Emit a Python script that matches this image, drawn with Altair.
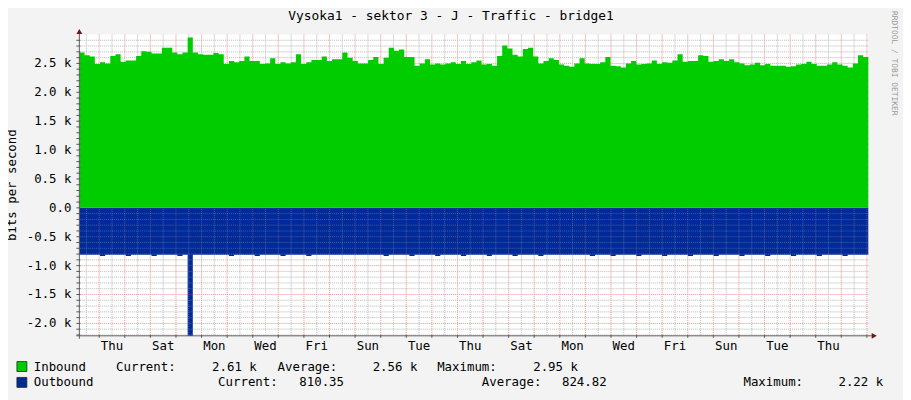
import altair as alt
import pandas as pd
import numpy as np

# ---------------- texts ----------------
TITLE = "Vysoka1 - sektor 3 - J - Traffic - bridge1"
Y_TITLE = "bits per second"
WATERMARK = "RRDTOOL / TOBI OETIKER"
DAY_LABELS = ["Thu", "Sat", "Mon", "Wed", "Fri", "Sun", "Tue", "Thu",
              "Sat", "Mon", "Wed", "Fri", "Sun", "Tue", "Thu"]
DAY_LABEL_POS = [0.5, 2.5, 4.5, 6.5, 8.5, 10.5, 12.5, 14.5,
                 16.5, 18.5, 20.5, 22.5, 24.5, 26.5, 28.5]   # noon of the labelled day
Y_TICK_VALUES = [-2000, -1500, -1000, -500, 0, 500, 1000, 1500, 2000, 2500]
Y_TICK_LABELS = ["-2.0 k", "-1.5 k", "-1.0 k", "-0.5 k", "0.0",
                 "0.5 k", "1.0 k", "1.5 k", "2.0 k", "2.5 k"]

# ---------------- axis ranges (days relative to first Thursday 00:00, bits/s) ----------------
X_START = -0.775
X_END = 30.055
Y_MIN = -2215
Y_MAX = 3000

# ---------------- series (k bits per second, 4.8h samples) ----------------
INBOUND_K = [
    2.69, 2.64, 2.62, 2.49, 2.52, 2.50, 2.63, 2.66, 2.53, 2.55,
    2.55, 2.63, 2.71, 2.70, 2.67, 2.67, 2.77, 2.77, 2.69, 2.66,
    2.69, 2.95, 2.69, 2.66, 2.65, 2.65, 2.68, 2.66, 2.49, 2.54,
    2.52, 2.54, 2.62, 2.54, 2.54, 2.49, 2.50, 2.59, 2.49, 2.52,
    2.50, 2.52, 2.66, 2.49, 2.52, 2.56, 2.56, 2.62, 2.54, 2.57,
    2.57, 2.69, 2.60, 2.54, 2.50, 2.50, 2.56, 2.61, 2.49, 2.60,
    2.77, 2.72, 2.74, 2.61, 2.61, 2.46, 2.50, 2.57, 2.48, 2.50,
    2.48, 2.50, 2.52, 2.49, 2.54, 2.49, 2.52, 2.55, 2.48, 2.49,
    2.46, 2.63, 2.81, 2.76, 2.65, 2.62, 2.75, 2.77, 2.62, 2.50,
    2.54, 2.59, 2.56, 2.48, 2.46, 2.44, 2.50, 2.59, 2.50, 2.49,
    2.49, 2.52, 2.61, 2.46, 2.45, 2.43, 2.50, 2.54, 2.48, 2.49,
    2.50, 2.55, 2.49, 2.52, 2.51, 2.55, 2.66, 2.53, 2.54, 2.54,
    2.64, 2.63, 2.53, 2.54, 2.57, 2.54, 2.57, 2.52, 2.50, 2.47,
    2.48, 2.51, 2.47, 2.49, 2.46, 2.46, 2.46, 2.44, 2.45, 2.48,
    2.49, 2.53, 2.49, 2.46, 2.46, 2.48, 2.52, 2.48, 2.46, 2.43,
    2.50, 2.64, 2.61,
]
OUTBOUND_K = [
    0.81, 0.81, 0.81, 0.81, 0.835, 0.81, 0.81, 0.81, 0.81, 0.835,
    0.81, 0.81, 0.81, 0.81, 0.835, 0.81, 0.81, 0.81, 0.81, 0.835,
    0.81, 2.22, 0.81, 0.81, 0.81, 0.81, 0.81, 0.81, 0.81, 0.835,
    0.81, 0.81, 0.81, 0.81, 0.835, 0.81, 0.81, 0.81, 0.81, 0.835,
    0.81, 0.81, 0.81, 0.81, 0.835, 0.81, 0.81, 0.81, 0.81, 0.81,
    0.81, 0.81, 0.81, 0.81, 0.81, 0.81, 0.81, 0.81, 0.81, 0.835,
    0.81, 0.81, 0.81, 0.81, 0.835, 0.81, 0.81, 0.81, 0.81, 0.835,
    0.81, 0.81, 0.81, 0.81, 0.835, 0.81, 0.81, 0.81, 0.81, 0.835,
    0.81, 0.81, 0.81, 0.81, 0.835, 0.81, 0.81, 0.81, 0.81, 0.835,
    0.81, 0.81, 0.81, 0.81, 0.81, 0.81, 0.81, 0.81, 0.81, 0.835,
    0.81, 0.81, 0.81, 0.835, 0.81, 0.81, 0.81, 0.81, 0.835, 0.81,
    0.81, 0.81, 0.81, 0.835, 0.81, 0.81, 0.81, 0.81, 0.835, 0.81,
    0.81, 0.81, 0.81, 0.835, 0.81, 0.81, 0.81, 0.81, 0.835, 0.81,
    0.81, 0.81, 0.81, 0.835, 0.81, 0.81, 0.81, 0.81, 0.835, 0.81,
    0.81, 0.81, 0.81, 0.835, 0.81, 0.81, 0.81, 0.81, 0.835, 0.81,
    0.81, 0.81, 0.81,
]

# legend pieces: text, x, y (pixels relative to plot origin), align
LEGEND_TEXTS = [
    ("Inbound", -46, 335, "left"), ("Current:", 37, 335, "left"), ("2.61 k", 179, 335, "right"),
    ("Average:", 200, 335, "left"), ("2.56 k", 341, 335, "right"),
    ("Maximum:", 361, 335, "left"), ("2.95 k", 503, 335, "right"),
    ("Outbound", -46, 351, "left"), ("Current:", 140, 351, "left"), ("810.35", 267, 351, "right"),
    ("Average:", 406, 351, "left"), ("824.82", 532, 351, "right"),
    ("Maximum:", 670, 351, "left"), ("2.22 k", 811, 351, "right"),
]

GREEN = "#00CC00"
BLUE = "#002A97"
SWATCHES = [(GREEN, -58, 335), (BLUE, -58, 351)]
FONT = "DejaVu Sans Mono"
W, H = 796, 304

# ---------------- data frames ----------------
n = len(INBOUND_K)
span = X_END - X_START
t = [X_START + i * span / n for i in range(n)] + [X_END]
df = pd.DataFrame({
    "t": t,
    "inb": [v * 1000 for v in INBOUND_K] + [INBOUND_K[-1] * 1000],
    "outb": [-v * 1000 for v in OUTBOUND_K] + [-OUTBOUND_K[-1] * 1000],
    "zero": 0,
})

vmajor = pd.DataFrame({"t": np.arange(0, 31, 1.0)})
vminor = pd.DataFrame({"t": np.arange(-0.5, 30.0, 1.0)})
hvals = list(range(-2200, 3000, 100))
hmajor = pd.DataFrame({"v": [v for v in hvals if v % 500 == 0]})
hminor = pd.DataFrame({"v": [v for v in hvals if v % 500 != 0]})
htick = pd.DataFrame({"v": hvals})
ylab = pd.DataFrame({"v": Y_TICK_VALUES, "s": Y_TICK_LABELS})
xlab = pd.DataFrame({"t": DAY_LABEL_POS, "s": DAY_LABELS})

xscale = alt.Scale(domain=[X_START, X_END], nice=False, zero=False)
yscale = alt.Scale(domain=[Y_MIN, Y_MAX], nice=False, zero=False)

blue = alt.Chart(df).mark_area(interpolate="step-after", color=BLUE).encode(
    x=alt.X("t:Q", scale=xscale, axis=None),
    y=alt.Y("outb:Q", scale=yscale, axis=None),
    y2="zero:Q",
)
green = alt.Chart(df).mark_area(interpolate="step-after", color=GREEN).encode(
    x=alt.X("t:Q", scale=xscale, axis=None),
    y=alt.Y("inb:Q", scale=yscale, axis=None),
    y2="zero:Q",
)

grid_gray = "#c4c4c4"
grid_red = "#f0a0a0"


def grid_layers(opacity):
    g1 = alt.Chart(vminor).mark_rule(color=grid_gray, strokeDash=[1, 1], strokeWidth=1, opacity=opacity).encode(
        x=alt.X("t:Q", scale=xscale, axis=None))
    g2 = alt.Chart(hminor).mark_rule(color=grid_gray, strokeDash=[1, 1], strokeWidth=1, opacity=opacity).encode(
        y=alt.Y("v:Q", scale=yscale, axis=None))
    g3 = alt.Chart(vmajor).mark_rule(color=grid_red, strokeDash=[1, 1], strokeWidth=1, opacity=opacity).encode(
        x=alt.X("t:Q", scale=xscale, axis=None))
    g4 = alt.Chart(hmajor).mark_rule(color=grid_red, strokeDash=[1, 1], strokeWidth=1, opacity=opacity).encode(
        y=alt.Y("v:Q", scale=yscale, axis=None))
    return [g1, g2, g3, g4]


# manual axes
ytick_marks = alt.Chart(htick).mark_rule(color="#555", strokeWidth=1).encode(
    y=alt.Y("v:Q", scale=yscale, axis=None), x=alt.value(-3), x2=alt.value(1))
ytick_labels = alt.Chart(ylab).mark_text(
    font=FONT, fontSize=12.5, color="#000", align="right", baseline="middle").encode(
    y=alt.Y("v:Q", scale=yscale, axis=None), x=alt.value(-8), text="s:N")
xtick_labels = alt.Chart(xlab).mark_text(
    font=FONT, fontSize=12.5, color="#000", align="center", baseline="middle").encode(
    x=alt.X("t:Q", scale=xscale, axis=None), y=alt.value(H + 10), text="s:N")
xtick_marks = alt.Chart(vmajor).mark_rule(color="#555", strokeWidth=1).encode(
    x=alt.X("t:Q", scale=xscale, axis=None), y=alt.value(H - 1), y2=alt.value(H + 2))

one = pd.DataFrame({"k": [0]})
axis_color = "#606060"
yline = alt.Chart(one).mark_rule(color=axis_color, strokeWidth=1).encode(
    x=alt.value(0), y=alt.value(-4), y2=alt.value(H + 3))
xline = alt.Chart(one).mark_rule(color=axis_color, strokeWidth=1).encode(
    x=alt.value(-3), x2=alt.value(W + 4), y=alt.value(H))
arrow_up = alt.Chart(one).mark_point(shape="triangle-up", filled=True, size=35, color="#7a1010", opacity=1).encode(
    x=alt.value(0), y=alt.value(-3))
arrow_right = alt.Chart(one).mark_point(shape="triangle-right", filled=True, size=35, color="#7a1010", opacity=1).encode(
    x=alt.value(W + 6), y=alt.value(H))

title = alt.Chart(one).mark_text(
    font=FONT, fontSize=13, color="#000", align="center", baseline="middle").encode(
    text=alt.value(TITLE), x=alt.value(375), y=alt.value(-19))
ytitle = alt.Chart(one).mark_text(
    font=FONT, fontSize=12.5, color="#000", align="center", baseline="middle", angle=270).encode(
    text=alt.value(Y_TITLE), x=alt.value(-68), y=alt.value(H / 2))
wmark = alt.Chart(one).mark_text(
    font=FONT, fontSize=8, color="#9a9a9a", align="center", baseline="middle", angle=90).encode(
    text=alt.value(WATERMARK), x=alt.value(822), y=alt.value(29))

legend_layers = []
for s, px, py, al in LEGEND_TEXTS:
    legend_layers.append(
        alt.Chart(one).mark_text(font=FONT, fontSize=12.5, color="#000", align=al, baseline="middle").encode(
            text=alt.value(s), x=alt.value(px), y=alt.value(py)))
for col, px, py in SWATCHES:
    legend_layers.append(
        alt.Chart(one).mark_square(size=100, filled=True, color=col, stroke="#222", strokeWidth=0.8, opacity=1).encode(
            x=alt.value(px), y=alt.value(py)))

chart = alt.layer(
    *grid_layers(1.0), blue, *grid_layers(0.35), green,
    yline, xline, ytick_marks, xtick_marks, ytick_labels, xtick_labels,
    arrow_up, arrow_right, title, ytitle, wmark, *legend_layers,
).properties(
    width=W, height=H,
    autosize=alt.AutoSizeParams(type="none"),
    padding={"left": 72, "top": 25, "right": 35, "bottom": 63},
    background="#f3f3f3",
).configure_view(fill="white", strokeWidth=0)

chart.save("out.html", embed_options={"renderer": "svg", "actions": False})
